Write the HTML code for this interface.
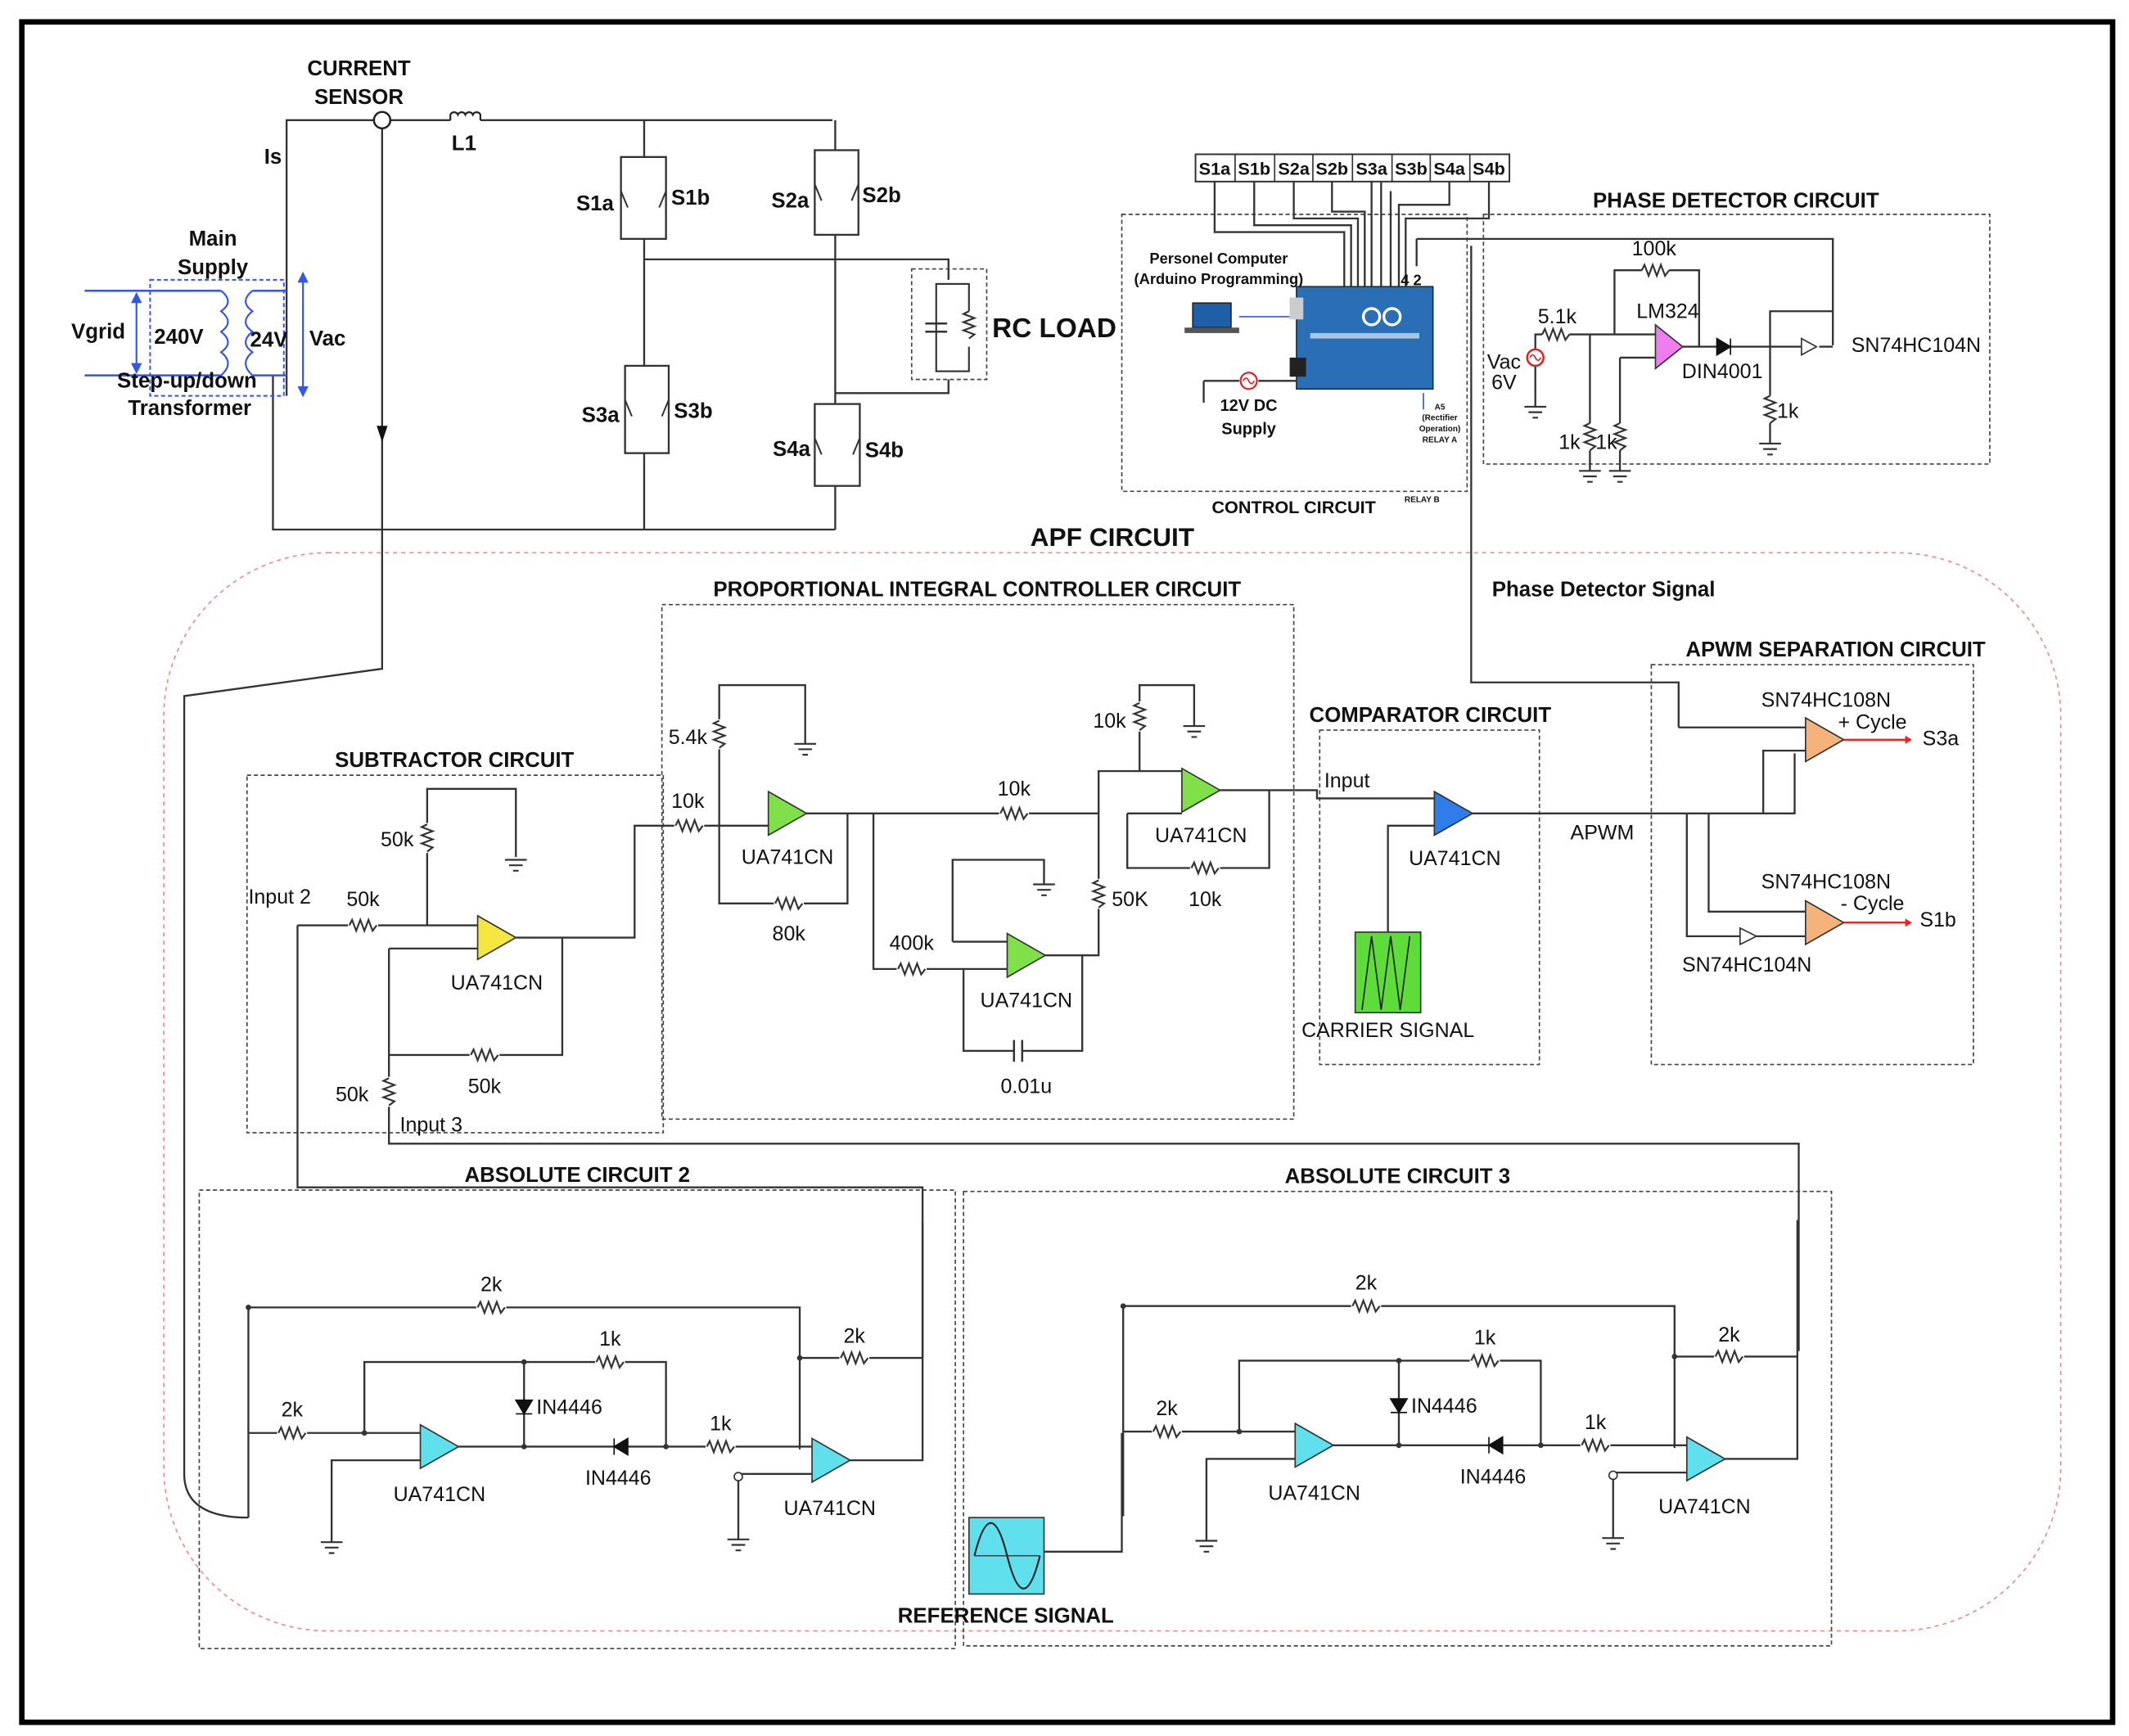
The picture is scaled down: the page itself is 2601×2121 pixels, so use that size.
<!DOCTYPE html>
<html><head><meta charset="utf-8"><style>
html,body{margin:0;padding:0;background:#fff}
svg{display:block}
text{font-family:"Liberation Sans",Arial,sans-serif;fill:#111}
.t{font-weight:bold;font-size:15.5px}
.l{font-size:15px}
.w{fill:none;stroke:#333;stroke-width:1.4}
.d{fill:none;stroke:#444;stroke-width:1;stroke-dasharray:3,2}
</style></head><body>
<svg width="2601" height="2121" viewBox="0 0 1560 1272" xmlns="http://www.w3.org/2000/svg">
<defs>
<path id="rh" d="M0,0 l2,-4 l3,8 l3,-8 l3,8 l3,-8 l3,8 l3,-4" fill="none" stroke="#333" stroke-width="1.3"/>
<path id="rv" d="M0,0 l-4,2 l8,3 l-8,3 l8,3 l-8,3 l8,3 l-4,3" fill="none" stroke="#333" stroke-width="1.3"/>
<path id="oa" d="M0,-16 L28,0 L0,16Z" stroke="#333" stroke-width="1"/>
<path id="gnd" d="M-8,0 h16 M-5,4 h10 M-2,8 h4" stroke="#333" stroke-width="1.3" fill="none"/>
<g id="abs">
 <path class="w" d="M182,958 H586 V1062 M586,995 H676 V895 M267,1050 V998 H488 V1060 M182,958 V1112 M182,1050 H308 M308,1070 H243 V1130 M336,1060 H488 M488,1060 H595 M595,1080 H541 V1128 M623,1070 H676 V995 M384,998 V1060"/>
 <rect x="349" y="952" width="22" height="12" fill="#fff"/><use href="#rh" x="350" y="958"/>
 <rect x="615" y="989" width="22" height="12" fill="#fff"/><use href="#rh" x="616" y="995"/>
 <rect x="436" y="992" width="22" height="12" fill="#fff"/><use href="#rh" x="437" y="998"/>
 <rect x="203" y="1044" width="22" height="12" fill="#fff"/><use href="#rh" x="204" y="1050"/>
 <rect x="517" y="1054" width="22" height="12" fill="#fff"/><use href="#rh" x="518" y="1060"/>
 <path d="M378,1036 h12 M384,1036 l-6,-10 h12z" stroke="#111" fill="#111"/>
 <path d="M450,1054 v12 M450,1060 l10,-6 v12z" stroke="#111" fill="#111"/>
 <use href="#oa" x="308" y="1060" fill="#5fe0ec"/>
 <use href="#oa" x="595" y="1070" fill="#5fe0ec"/>
 <use href="#gnd" x="243" y="1130"/><use href="#gnd" x="541" y="1128"/>
 <circle cx="541" cy="1082" r="3" fill="#fff" stroke="#333"/>
 <circle cx="182" cy="958" r="2" fill="#333"/><circle cx="586" cy="995" r="2" fill="#333"/><circle cx="267" cy="1050" r="2" fill="#333"/><circle cx="384" cy="1060" r="2" fill="#333"/><circle cx="488" cy="1060" r="2" fill="#333"/><circle cx="384" cy="998" r="2" fill="#333"/>
 <text class="l" x="360" y="946" text-anchor="middle">2k</text>
 <text class="l" x="626" y="984" text-anchor="middle">2k</text>
 <text class="l" x="447" y="986" text-anchor="middle">1k</text>
 <text class="l" x="214" y="1038" text-anchor="middle">2k</text>
 <text class="l" x="528" y="1048" text-anchor="middle">1k</text>
 <text class="l" x="393" y="1036">IN4446</text>
 <text class="l" x="453" y="1088" text-anchor="middle">IN4446</text>
 <text class="l" x="322" y="1100" text-anchor="middle">UA741CN</text>
 <text class="l" x="608" y="1110" text-anchor="middle">UA741CN</text>
</g>
</defs>
<rect x="0" y="0" width="1560" height="1272" fill="#fff"/>
<rect x="16" y="16" width="1532" height="1246" fill="none" stroke="#000" stroke-width="4"/>

<!-- APF dashed red -->
<rect x="120" y="405" width="1390" height="790" rx="120" fill="none" stroke="#f08a8a" stroke-width="1" stroke-dasharray="3,3"/>

<!-- Top power circuit -->
<path class="w" d="M210,290 V88 H274 M286,88 H330 M352,88 H610 M472,88 V388 M612,88 V388 M200,275 V388 H612 M472,190 H695 V205 M612,288 H695 V278 M280,94 V490 L135,510 V1080 Q135,1112 182,1112"/>
<path d="M330,88 v-4 a3,3 0 0 1 5.5,0 a3,3 0 0 1 5.5,0 a3,3 0 0 1 5.5,0 a3,3 0 0 1 5.5,0 v4" fill="none" stroke="#222" stroke-width="1.3"/>
<circle cx="280" cy="88" r="6" fill="#fff" stroke="#222" stroke-width="1.5"/>
<path d="M276,312 l4,12 l4,-12z" fill="#111"/>
<!-- switches -->
<g fill="#fff" stroke="#333" stroke-width="1.4">
<rect x="455" y="115" width="33" height="60"/><rect x="458" y="268" width="32" height="64"/>
<rect x="597" y="110" width="32" height="62"/><rect x="597" y="296" width="33" height="60"/>
</g>
<g stroke="#333" stroke-width="1.2">
<path d="M455,140 l5,12 M488,140 l-5,12 M458,293 l5,12 M490,293 l-5,12 M597,135 l5,12 M629,135 l-5,12 M597,321 l5,12 M630,321 l-5,12" fill="none"/>
</g>
<rect x="668" y="197" width="55" height="81" class="d"/>
<rect x="686" y="208" width="24" height="64" fill="none" stroke="#333" stroke-width="1.3"/>
<rect x="700" y="228" width="14" height="26" fill="#fff"/><use href="#rv" x="710" y="228" transform="rotate(0)"/>
<path d="M678,237 h16 M678,243 h16" stroke="#333" stroke-width="1.5"/>
<!-- transformer -->
<rect x="110" y="205" width="98" height="85" fill="none" stroke="#3355ee" stroke-width="1.2" stroke-dasharray="3,2"/>
<path d="M62,213 H162 M62,275 H162 M185,213 H210 M185,275 H210" stroke="#3355ee" stroke-width="1.5" fill="none"/>
<path d="M162,213 q10,8 0,15 q10,8 0,15 q10,8 0,15 q10,8 0,17 M185,213 q-10,8 0,15 q-10,8 0,15 q-10,8 0,15 q-10,8 0,17" stroke="#3355ee" stroke-width="1.3" fill="none"/>
<path d="M100,215 V273 M222,200 V290" stroke="#3355ee" stroke-width="1.3"/>
<path d="M96,222 l4,-8 l4,8z M96,266 l4,8 l4,-8z M218,207 l4,-8 l4,8z M218,283 l4,8 l4,-8z" fill="#3355ee"/>
<text class="t" x="263" y="55" text-anchor="middle">CURRENT</text>
<text class="t" x="263" y="76" text-anchor="middle">SENSOR</text>
<text class="t" x="340" y="110" text-anchor="middle">L1</text>
<text class="t" x="200" y="120" text-anchor="middle">Is</text>
<text class="t" x="156" y="180" text-anchor="middle">Main</text>
<text class="t" x="156" y="201" text-anchor="middle">Supply</text>
<text class="t" x="72" y="248" text-anchor="middle">Vgrid</text>
<text class="t" x="131" y="252" text-anchor="middle">240V</text>
<text class="t" x="197" y="254" text-anchor="middle">24V</text>
<text class="t" x="240" y="253" text-anchor="middle">Vac</text>
<text class="t" x="137" y="284" text-anchor="middle">Step-up/down</text>
<text class="t" x="139" y="304" text-anchor="middle">Transformer</text>
<text class="t" x="436" y="154" text-anchor="middle">S1a</text><text class="t" x="506" y="150" text-anchor="middle">S1b</text>
<text class="t" x="579" y="152" text-anchor="middle">S2a</text><text class="t" x="646" y="148" text-anchor="middle">S2b</text>
<text class="t" x="440" y="309" text-anchor="middle">S3a</text><text class="t" x="508" y="306" text-anchor="middle">S3b</text>
<text class="t" x="580" y="334" text-anchor="middle">S4a</text><text class="t" x="648" y="335" text-anchor="middle">S4b</text>
<text x="727" y="247" style="font-weight:bold;font-size:20px">RC LOAD</text>

<!-- Control circuit -->
<rect x="822" y="157" width="253" height="203" class="d"/>
<g fill="#fff" stroke="#333" stroke-width="1.2">
<rect x="876" y="113" width="230" height="20"/>
</g>
<path d="M905,113 v20 M934,113 v20 M962,113 v20 M991,113 v20 M1020,113 v20 M1048,113 v20 M1077,113 v20" stroke="#333"/>
<g style="font-weight:bold;font-size:13px">
<text x="890" y="128" text-anchor="middle">S1a</text><text x="919" y="128" text-anchor="middle">S1b</text><text x="948" y="128" text-anchor="middle">S2a</text><text x="976" y="128" text-anchor="middle">S2b</text><text x="1005" y="128" text-anchor="middle">S3a</text><text x="1034" y="128" text-anchor="middle">S3b</text><text x="1062" y="128" text-anchor="middle">S4a</text><text x="1091" y="128" text-anchor="middle">S4b</text>
</g>
<path class="w" stroke-width="1" d="M890,133 V170 H985 V210 M919,133 V165 H990 V210 M948,133 V160 H995 V210 M976,133 V155 H1000 V210 M1005,133 V210 M1012,133 V150 V210 M1019,140 V210 M1062,133 V150 H1025 V210 M1091,133 V160 H1030 V210 M1038,175 H1343 V253 M1038,175 V195 M1078,180 V500 H1230 V533"/>
<rect x="950" y="210" width="100" height="75" fill="#2a6fb5" stroke="#134" stroke-width="1"/>
<rect x="945" y="218" width="10" height="16" fill="#ccc"/><rect x="945" y="262" width="12" height="14" fill="#222"/>
<circle cx="1005" cy="232" r="6" fill="none" stroke="#fff" stroke-width="2"/><circle cx="1020" cy="232" r="6" fill="none" stroke="#fff" stroke-width="2"/>
<rect x="960" y="244" width="80" height="4" fill="#fff" opacity="0.6"/>
<rect x="874" y="222" width="28" height="18" fill="#1f5fa8" stroke="#222"/><rect x="868" y="240" width="40" height="4" fill="#555"/>
<path d="M908,232 H945" stroke="#3355ee"/>
<path class="w" stroke-width="1" d="M882,279 H908 M922,279 H950 M882,279 V295"/>
<circle cx="915" cy="279" r="6" fill="#fff" stroke="#d22" stroke-width="1.3"/>
<path d="M911,279 q2,-4 4,0 q2,4 4,0" stroke="#d22" fill="none"/>
<path d="M1043,288 V300" stroke="#3355ee"/>
<text x="893" y="193" text-anchor="middle" style="font-weight:bold;font-size:11px">Personel Computer</text>
<text x="893" y="208" text-anchor="middle" style="font-weight:bold;font-size:11px">(Arduino Programming)</text>
<text x="915" y="301" text-anchor="middle" style="font-weight:bold;font-size:12px">12V DC</text>
<text x="915" y="318" text-anchor="middle" style="font-weight:bold;font-size:12px">Supply</text>
<text x="1034" y="209" text-anchor="middle" style="font-weight:bold;font-size:11px">4 2</text>
<g style="font-size:6px;font-weight:bold"><text x="1055" y="300" text-anchor="middle">A5</text><text x="1055" y="308" text-anchor="middle">(Rectifier</text><text x="1055" y="316" text-anchor="middle">Operation)</text><text x="1055" y="324" text-anchor="middle">RELAY A</text><text x="1042" y="368" text-anchor="middle">RELAY B</text></g>
<text x="948" y="376" text-anchor="middle" style="font-weight:bold;font-size:13px">CONTROL CIRCUIT</text>

<!-- Phase detector -->
<rect x="1087" y="157" width="371" height="183" class="d"/>
<text class="t" x="1272" y="152" text-anchor="middle">PHASE DETECTOR CIRCUIT</text>
<path class="w" d="M1125,256 V245 H1130 M1150,245 H1213 M1165,245 V345 M1187,262 V345 M1187,262 H1213 M1125,268 V298 M1183,245 V198 H1203 M1223,198 H1245 V254 M1233,254 H1320 M1297,254 V325 M1297,254 V228 H1343 M1333,254 H1343"/>
<circle cx="1125" cy="262" r="6" fill="#fff" stroke="#d22" stroke-width="1.5"/>
<path d="M1121,262 q2,-4 4,0 q2,4 4,0" stroke="#d22" fill="none"/>
<use href="#gnd" x="1125" y="298"/><use href="#gnd" x="1165" y="345"/><use href="#gnd" x="1187" y="345"/><use href="#gnd" x="1297" y="325"/>
<use href="#rh" x="1130" y="245"/><use href="#rh" x="1203" y="198"/>
<rect x="1160" y="310" width="10" height="20" fill="#fff"/><use href="#rv" x="1165" y="310"/>
<rect x="1182" y="310" width="10" height="20" fill="#fff"/><use href="#rv" x="1187" y="310"/>
<rect x="1292" y="290" width="10" height="20" fill="#fff"/><use href="#rv" x="1297" y="290"/>
<path d="M1213,238 L1233,254 L1213,270Z" fill="#f07df0" stroke="#333"/>
<path d="M1258,248 v12 l10,-6z M1268,248 v12" fill="#111" stroke="#111"/>
<path d="M1320,248 L1331,254 L1320,260Z" fill="#fff" stroke="#333"/>
<text class="l" x="1102" y="270" text-anchor="middle">Vac</text><text class="l" x="1102" y="285" text-anchor="middle">6V</text>
<text class="l" x="1141" y="237" text-anchor="middle">5.1k</text>
<text class="l" x="1212" y="187" text-anchor="middle">100k</text>
<text class="l" x="1222" y="233" text-anchor="middle">LM324</text>
<text class="l" x="1262" y="277" text-anchor="middle">DIN4001</text>
<text class="l" x="1404" y="258" text-anchor="middle">SN74HC104N</text>
<text class="l" x="1150" y="329" text-anchor="middle">1k</text><text class="l" x="1177" y="329" text-anchor="middle">1k</text>
<text class="l" x="1310" y="306" text-anchor="middle">1k</text>

<text x="815" y="400" text-anchor="middle" style="font-weight:bold;font-size:19px">APF CIRCUIT</text>
<text class="t" x="1175" y="437" text-anchor="middle">Phase Detector Signal</text>

<!-- boxes -->
<rect x="485" y="443" width="463" height="377" class="d"/>
<rect x="181" y="568" width="305" height="262" class="d"/>
<rect x="967" y="535" width="161" height="245" class="d"/>
<rect x="1210" y="487" width="236" height="293" class="d"/>
<rect x="146" y="872" width="554" height="336" class="d"/>
<rect x="706" y="873" width="636" height="333" class="d"/>
<text class="t" x="716" y="437" text-anchor="middle">PROPORTIONAL INTEGRAL CONTROLLER CIRCUIT</text>
<text class="t" x="333" y="562" text-anchor="middle">SUBTRACTOR CIRCUIT</text>
<text class="t" x="1048" y="529" text-anchor="middle">COMPARATOR  CIRCUIT</text>
<text class="t" x="1345" y="481" text-anchor="middle">APWM SEPARATION CIRCUIT</text>
<text class="t" x="423" y="866" text-anchor="middle">ABSOLUTE CIRCUIT 2</text>
<text class="t" x="1024" y="867" text-anchor="middle">ABSOLUTE CIRCUIT 3</text>

<!-- subtractor -->
<path class="w" d="M218,678 V870 H676 V995 M218,678 H350 M313,678 V578 H378 V628 M285,695 H350 M285,695 V790 M285,773 H412 V687 M378,687 H465 V605 H495 M285,810 V838 H1318 V990"/>
<rect x="255" y="672" width="22" height="12" fill="#fff"/><use href="#rh" x="256" y="678"/>
<rect x="344" y="767" width="22" height="12" fill="#fff"/><use href="#rh" x="345" y="773"/>
<rect x="308" y="603" width="10" height="22" fill="#fff"/><use href="#rv" x="313" y="604"/>
<rect x="280" y="789" width="10" height="22" fill="#fff"/><use href="#rv" x="285" y="790"/>
<use href="#gnd" x="378" y="630"/>
<use href="#oa" x="350" y="687" fill="#f5e642"/>
<text class="l" x="182" y="662">Input 2</text>
<text class="l" x="266" y="664" text-anchor="middle">50k</text>
<text class="l" x="291" y="620" text-anchor="middle">50k</text>
<text class="l" x="364" y="725" text-anchor="middle">UA741CN</text>
<text class="l" x="355" y="801" text-anchor="middle">50k</text>
<text class="l" x="258" y="807" text-anchor="middle">50k</text>
<text class="l" x="293" y="829">Input 3</text>

<!-- PI -->
<path class="w" d="M515,605 H563 M527,605 V548 M527,528 V502 H590 V545 M527,605 V662 H568 M588,662 H621 V596 M590,596 H733 M753,596 H805 M640,596 V710 H658 M678,710 H738 M706,710 V770 H743 M749,770 H793 V700 M698,690 H738 M698,690 V630 H765 V648 M765,700 H805 V665 M805,645 V596 M805,596 V565 H835 V535 M835,515 V502 H875 V532 M826,596 V636 H873 M893,636 H930 V579 M835,565 H866 M826,596 H866 M893,579 H965 V585 H1051 M1017,683 V605 H1051"/>
<rect x="494" y="599" width="22" height="12" fill="#fff"/><use href="#rh" x="495" y="605"/>
<rect x="567" y="656" width="22" height="12" fill="#fff"/><use href="#rh" x="568" y="662"/>
<rect x="732" y="590" width="22" height="12" fill="#fff"/><use href="#rh" x="733" y="596"/>
<rect x="657" y="704" width="22" height="12" fill="#fff"/><use href="#rh" x="658" y="710"/>
<rect x="872" y="630" width="22" height="12" fill="#fff"/><use href="#rh" x="873" y="636"/>
<rect x="522" y="527" width="10" height="22" fill="#fff"/><use href="#rv" x="527" y="528"/>
<rect x="830" y="514" width="10" height="22" fill="#fff"/><use href="#rv" x="835" y="515"/>
<rect x="800" y="644" width="10" height="22" fill="#fff"/><use href="#rv" x="805" y="645"/>
<path d="M743,762 v16 M749,762 v16" stroke="#333" stroke-width="1.5"/>
<use href="#gnd" x="590" y="545"/><use href="#gnd" x="765" y="648"/><use href="#gnd" x="875" y="532"/>
<use href="#oa" x="563" y="596" fill="#7fe04a"/>
<use href="#oa" x="866" y="579" fill="#7fe04a"/>
<use href="#oa" x="738" y="700" fill="#7fe04a"/>
<text class="l" x="504" y="592" text-anchor="middle">10k</text>
<text class="l" x="504" y="545" text-anchor="middle">5.4k</text>
<text class="l" x="577" y="633" text-anchor="middle">UA741CN</text>
<text class="l" x="578" y="689" text-anchor="middle">80k</text>
<text class="l" x="743" y="583" text-anchor="middle">10k</text>
<text class="l" x="668" y="696" text-anchor="middle">400k</text>
<text class="l" x="752" y="738" text-anchor="middle">UA741CN</text>
<text class="l" x="752" y="801" text-anchor="middle">0.01u</text>
<text class="l" x="813" y="533" text-anchor="middle">10k</text>
<text class="l" x="880" y="617" text-anchor="middle">UA741CN</text>
<text class="l" x="828" y="664" text-anchor="middle">50K</text>
<text class="l" x="883" y="664" text-anchor="middle">10k</text>

<!-- comparator -->
<use href="#oa" x="1051" y="596" fill="#2f7de8"/>
<rect x="993" y="683" width="48" height="59" fill="#5edc3a" stroke="#333"/>
<path d="M998,740 l7,-54 l7,54 l7,-54 l7,54 l7,-54" stroke="#222" fill="none"/>
<path class="w" d="M1078,596 H1236"/>
<text class="l" x="987" y="577" text-anchor="middle">Input</text>
<text class="l" x="1066" y="634" text-anchor="middle">UA741CN</text>
<text class="l" x="1017" y="760" text-anchor="middle">CARRIER SIGNAL</text>
<text class="l" x="1174" y="615" text-anchor="middle">APWM</text>

<!-- APWM -->
<path class="w" d="M1230,533 H1323 M1236,596 H1292 V550 H1323 M1236,596 V686 H1275 M1287,686 H1323 M1252,596 V668 H1323 M1236,596 H1315 V552"/>
<path d="M1275,680 L1287,686 L1275,692Z" fill="#fff" stroke="#333"/>
<use href="#oa" x="1323" y="542" fill="#f5b27a"/>
<use href="#oa" x="1323" y="676" fill="#f5b27a"/>
<path d="M1351,542 H1400 M1351,676 H1400" stroke="#e22" stroke-width="1.4"/>
<path d="M1396,539 l5,3 l-5,3z M1396,673 l5,3 l-5,3z" fill="#e22"/>
<text class="l" x="1338" y="518" text-anchor="middle">SN74HC108N</text>
<text class="l" x="1372" y="534" text-anchor="middle">+ Cycle</text>
<text class="l" x="1422" y="546" text-anchor="middle">S3a</text>
<text class="l" x="1338" y="651" text-anchor="middle">SN74HC108N</text>
<text class="l" x="1372" y="667" text-anchor="middle">- Cycle</text>
<text class="l" x="1420" y="679" text-anchor="middle">S1b</text>
<text class="l" x="1280" y="712" text-anchor="middle">SN74HC104N</text>

<!-- absolute circuits -->
<use href="#abs"/>
<use href="#abs" transform="translate(641,-1)"/>
<path class="w" d="M765,1137 H822 V1050"/>
<rect x="710" y="1112" width="55" height="56" fill="#5fe0ec" stroke="#333"/>
<path d="M714,1140 q12,-48 24,0 t24,0" stroke="#222" fill="none" stroke-width="1.3"/>
<path d="M714,1140 H762" stroke="#333" stroke-width="0.8"/>
<text class="t" x="737" y="1189" text-anchor="middle">REFERENCE SIGNAL</text>
</svg>
</body></html>
